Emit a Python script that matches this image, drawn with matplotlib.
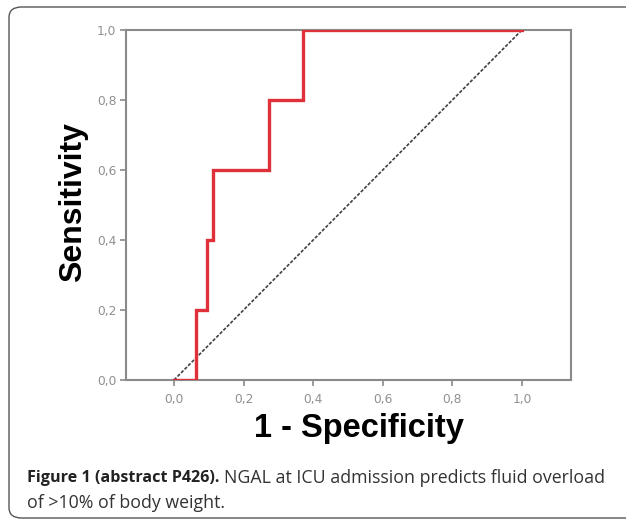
import matplotlib
matplotlib.use("Agg")
import matplotlib.pyplot as plt
from matplotlib.patches import FancyBboxPatch

# ROC curve (1 - specificity, sensitivity)
fpr = [0.0, 0.063, 0.063, 0.096, 0.096, 0.113, 0.113, 0.274, 0.274, 0.370, 0.370, 1.0]
tpr = [0.0, 0.0, 0.2, 0.2, 0.4, 0.4, 0.6, 0.6, 0.8, 0.8, 1.0, 1.0]
ref_x = [0.0, 1.0]
ref_y = [0.0, 1.0]
tick_vals = [0.0, 0.2, 0.4, 0.6, 0.8, 1.0]
tick_labels = ["0,0", "0,2", "0,4", "0,6", "0,8", "1,0"]

W, H = 626, 519
fig = plt.figure(figsize=(W / 100, H / 100), dpi=100)
fig.patch.set_facecolor("white")

# outer rounded frame
box = FancyBboxPatch((9 / W, 1 - 518 / H), (660 - 9) / W, (518 - 7) / H,
                     boxstyle="round,pad=0,rounding_size=0.02",
                     transform=fig.transFigure, facecolor="none",
                     edgecolor="#555555", linewidth=1.0, clip_on=False)
fig.patches.append(box)

ax = fig.add_axes([126 / W, 1 - 380 / H, (571 - 126) / W, (380 - 30) / H])
ax.plot(ref_x, ref_y, color="#404040", linewidth=1.2, linestyle=(0, (2, 1)))
ax.plot(fpr, tpr, color="#e0303a", linewidth=2.4, solid_joinstyle="miter", zorder=3)

ax.set_xlim(-0.138, 1.141)
ax.set_ylim(0, 1.0)
ax.set_xticks(tick_vals)
ax.set_xticklabels(tick_labels)
ax.set_yticks(tick_vals)
ax.set_yticklabels(tick_labels)
for s in ax.spines.values():
    s.set_color("#8a8a8a")
    s.set_linewidth(1.5)
ax.tick_params(axis="both", colors="#8a8a8a", labelcolor="#909090",
               labelsize=8.8, length=4, width=1.2, direction="out", pad=3)
ax.tick_params(axis="x", pad=5)

ax.set_ylabel("Sensitivity", fontsize=23, fontweight="bold",
              family="Liberation Sans")
ax.yaxis.set_label_coords((73 - 126) / 445, (380 - 202) / 350)
ax.set_xlabel("1 - Specificity", fontsize=23.5, fontweight="bold",
              family="Liberation Sans")
ax.xaxis.set_label_coords((359 - 126) / 445, (380 - 428) / 350)
ax.xaxis.label.set_va("center")
ax.yaxis.label.set_va("center")

# caption
cap_font = "Open Sans"
fig.canvas.draw()
renderer = fig.canvas.get_renderer()
t1 = fig.text(27 / W, 1 - 478 / H, "Figure 1 (abstract P426).", fontsize=11.6,
              fontweight="bold", family=cap_font, color="#222222", va="center")
bb = t1.get_window_extent(renderer=renderer)
x2 = bb.x1 / W + 5 / W
fig.text(x2, 1 - 478 / H, "NGAL at ICU admission predicts fluid overload",
         fontsize=12.8, family=cap_font, color="#333333", va="center")
fig.text(27 / W, 1 - 503 / H, "of >10% of body weight.", fontsize=12.8,
         family=cap_font, color="#333333", va="center")

fig.savefig("out.png", dpi=100)
